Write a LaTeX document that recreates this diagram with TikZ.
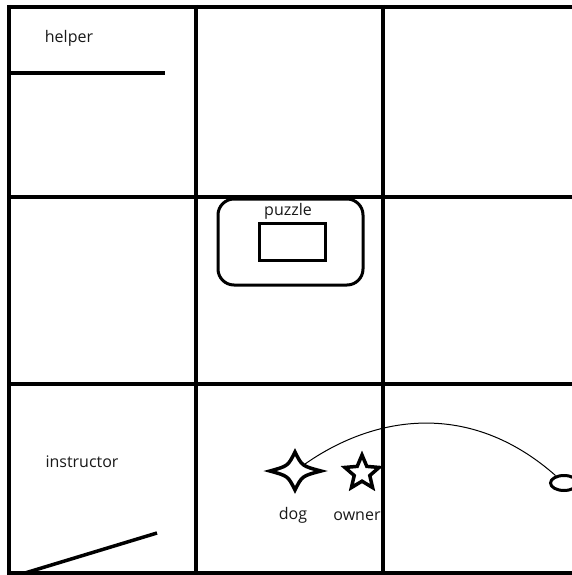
\documentclass[tikz,border=0pt]{standalone}
\usepackage{fontspec}
\setmainfont{Open Sans}
\usetikzlibrary{shapes.geometric}
\begin{document}
\begin{tikzpicture}[x=1pt,y=-1pt,
  grid/.style={line width=4pt},
  mark line/.style={line width=3.5pt},
  lbl/.style={font=\fontsize{16}{19}\selectfont,text=black!90,inner sep=0pt}]
\useasboundingbox (0,0) rectangle (571,575);
\fill[white] (0,0) rectangle (571,575);
\draw[grid] (9,5)--(9,575);
\draw[grid] (196,5)--(196,575);
\draw[grid] (383,5)--(383,575);
\draw[grid] (7,7)--(575,7);
\draw[grid] (7,197)--(575,197);
\draw[grid] (7,384)--(575,384);
\draw[grid] (7,573)--(575,573);
\draw[mark line] (11,73)--(165,73);
\draw[mark line] (25,573)--(157,533);
\node[lbl] (helper) at (69,38) {helper};
\node[lbl] (instructor) at (82,462) {instructor};
\draw[line width=3pt,rounded corners=16pt] (218,199) rectangle (363,285);
\draw[line width=3pt] (259,223) rectangle (325,260);
\node[lbl] (puzzle) at (288,211) {puzzle};
\draw[line width=3.5pt,line join=miter] (321,471) .. controls (302,466) .. (295,452)
  .. controls (288,466) .. (270,471) .. controls (288,476) .. (295,490)
  .. controls (302,476) .. (321,471) -- cycle;
\coordinate (dog) at (305,464);
\node[draw,star,star points=5,star point ratio=2.2,minimum size=36pt,inner sep=0pt,line width=3.5pt] (owner) at (362,473) {};
\node[draw,ellipse,minimum width=27pt,minimum height=15pt,inner sep=0pt,line width=3pt] (ball) at (564,483) {};
\draw[line width=1pt] (dog) .. controls (375,415) and (470,400) .. (ball);
\node[lbl] (doglbl) at (293,515) {dog};
\node[lbl] (ownerlbl) at (357,516) {owner};
\end{tikzpicture}
\end{document}
